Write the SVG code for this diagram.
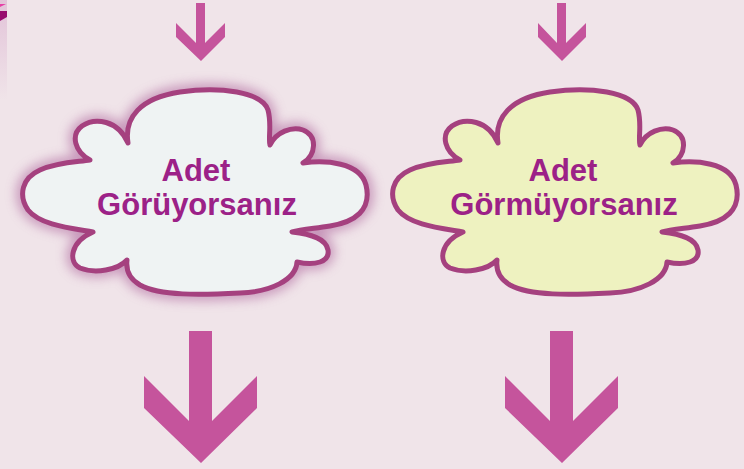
<svg xmlns="http://www.w3.org/2000/svg" xmlns:xlink="http://www.w3.org/1999/xlink" width="744" height="469" viewBox="0 0 744 469">
<style>
.cloud{stroke:#a5417f;stroke-width:5;stroke-linejoin:round}
.lbl{font-family:"Liberation Sans",Arial,sans-serif;font-weight:bold;font-size:31px;fill:#9c2187;text-anchor:middle}
.arr{fill:#c5549c}
</style>
<defs>
<path id="cloudShape" d="M128,143 C124,118 140,98 180,92 C220,86 262,92 268,110 C272,125 268,138 270,145 C276,132 292,126 303,130 C318,136 316,155 303,163 C325,160 360,162 366,185 C372,210 355,222 330,226 C310,229 300,230 292,232 C310,234 326,238 328,250 C330,262 315,266 297,262 C296,280 270,292 240,293 C200,295 160,296 140,285 C128,278 126,268 127,260 C118,270 95,274 80,268 C68,262 70,242 93,232 C70,228 40,225 28,210 C18,195 22,178 40,170 C58,162 78,162 90,160 C75,152 70,135 82,126 C95,117 118,120 128,143 Z"/>
<filter id="glow" x="-20%" y="-20%" width="140%" height="140%"><feGaussianBlur stdDeviation="6"/></filter>
<linearGradient id="side" x1="0" y1="0" x2="0" y2="1"><stop offset="0" stop-color="#e2c3d8"/><stop offset="1" stop-color="#f0e4e9"/></linearGradient>
</defs>
<rect width="744" height="469" fill="#f0e4e9"/>
<g id="corner">
<rect x="0" y="0" width="7" height="100" fill="url(#side)"/>
<polygon points="0,4 6,4 0,7" fill="#e640a6"/>
<polygon points="0,11 7,11 7,17 0,21" fill="#980c6e"/>
</g>
<g id="connectors">
<polygon class="arr" points="196,3 205,3 205,43 225,23 225,37 201,61 176,37 176,23 196,43"/>
<polygon class="arr" points="557,3 566,3 566,43 586,23 586,37 562,61 538,37 538,23 557,43"/>
<polygon class="arr" points="189,331 212,331 212,421 257,376 257,408 201,463 144,408 144,376 189,421"/>
<polygon class="arr" points="550,331 573,331 573,421 618,376 618,408 562,463 505,408 505,376 550,421"/>
</g>
<g id="node-goruyorsaniz">
<use xlink:href="#cloudShape" fill="none" stroke="#b36fa3" stroke-width="12" opacity="0.7" filter="url(#glow)"/>
<use xlink:href="#cloudShape" class="cloud" fill="#eff3f3"/>
<text class="lbl" x="196" y="181">Adet</text>
<text class="lbl" x="197" y="215">Görüyorsanız</text>
</g>
<g id="node-gormuyorsaniz">
<use xlink:href="#cloudShape" class="cloud" fill="#eef2c0" transform="translate(370,0)"/>
<text class="lbl" x="563" y="181">Adet</text>
<text class="lbl" x="564" y="215">Görmüyorsanız</text>
</g>
</svg>
